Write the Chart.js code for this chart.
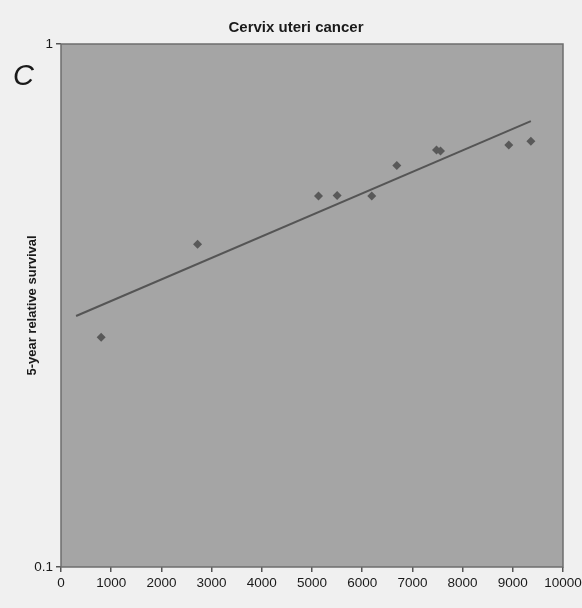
<!DOCTYPE html>
<html>
<head>
<meta charset="utf-8">
<script src="https://cdn.jsdelivr.net/npm/chart.js@4.4.1/dist/chart.umd.min.js"></script>
<style>
  html, body { margin: 0; padding: 0; background: #f0f0f0; }
  #wrap { width: 582px; height: 608px; }
</style>
</head>
<body>
<div id="wrap"><canvas id="myChart" width="582" height="608"></canvas></div>
<script>
// data
let incomeX = [800, 2720, 5130, 5500, 6190, 6690, 7480, 7560, 8920, 9360];
let survivalY = [0.275, 0.414, 0.512, 0.513, 0.512, 0.586, 0.627, 0.624, 0.641, 0.652];
let trendX = [300, 9360];
let trendY = [0.302, 0.712];
let xTicks = [0, 1000, 2000, 3000, 4000, 5000, 6000, 7000, 8000, 9000, 10000];
let yTicks = [0.1, 1];

let elCanvas = document.getElementById('myChart').getContext('2d');

function toPoints(xs, ys) {
    let pts = [];
    for (let i = 0; i < xs.length; i++) {
        pts.push({ x: xs[i], y: ys[i] });
    }
    return pts;
}

// plot area fill + border, title and panel letter
const decor = {
    id: 'decor',
    beforeDatasetsDraw(chart) {
        const a = chart.chartArea, c = chart.ctx;
        c.save();
        c.fillStyle = '#a5a5a5';
        c.fillRect(a.left, a.top, a.right - a.left, a.bottom - a.top);
        c.strokeStyle = '#6e6e6e';
        c.lineWidth = 1.5;
        c.strokeRect(a.left, a.top, a.right - a.left, a.bottom - a.top);
        c.restore();
    },
    afterDraw(chart) {
        const c = chart.ctx;
        c.save();
        c.fillStyle = '#1a1a1a';
        c.textAlign = 'center';
        c.textBaseline = 'middle';
        c.font = 'bold 15px "Liberation Sans", Arial, sans-serif';
        c.fillText('Cervix uteri cancer', 296, 28);
        c.textAlign = 'left';
        c.font = 'italic 29px "Liberation Sans", Arial, sans-serif';
        c.fillText('C', 13, 77);
        c.restore();
    }
};

const tickFont = { family: '"Liberation Sans", Arial, sans-serif', size: 13.5 };

new Chart(elCanvas, {
    type: 'scatter',
    data: {
        datasets: [
            {
                label: 'Trend',
                type: 'line',
                data: toPoints(trendX, trendY),
                borderColor: '#555',
                borderWidth: 2,
                pointRadius: 0,
                fill: false
            },
            {
                label: 'Countries',
                data: toPoints(incomeX, survivalY),
                pointStyle: 'rectRot',
                pointRadius: 4.5,
                backgroundColor: '#595959',
                borderColor: '#595959',
                borderWidth: 0
            }
        ]
    },
    options: {
        responsive: false,
        animation: false,
        layout: { padding: { top: 44, right: 19, left: 0, bottom: 0 } },
        plugins: { legend: { display: false }, tooltip: { enabled: false } },
        scales: {
            x: {
                type: 'linear',
                min: 0,
                max: 10000,
                afterBuildTicks: s => { s.ticks = xTicks.map(v => ({ value: v })); },
                afterFit: s => { s.height = 41; s.paddingLeft = 0; s.paddingRight = 0; },
                grid: { display: true, drawOnChartArea: false, tickLength: 5, color: '#555', lineWidth: 1.5 },
                border: { display: false },
                ticks: {
                    color: '#1a1a1a',
                    maxRotation: 0,
                    padding: 3,
                    callback: v => String(v),
                    font: tickFont
                }
            },
            y: {
                type: 'logarithmic',
                min: 0.1,
                max: 1,
                afterBuildTicks: s => { s.ticks = yTicks.map(v => ({ value: v })); },
                afterFit: s => { s.width = 61; s.paddingTop = 0; s.paddingBottom = 0; },
                grid: { display: true, drawOnChartArea: false, tickLength: 5, color: '#555', lineWidth: 1.5 },
                border: { display: false },
                ticks: {
                    color: '#1a1a1a',
                    padding: 3,
                    callback: v => String(v),
                    font: tickFont
                },
                title: {
                    display: true,
                    text: '5-year relative survival',
                    color: '#1a1a1a',
                    padding: { top: 25, bottom: 0 },
                    font: { family: '"Liberation Sans", Arial, sans-serif', size: 13, weight: 'bold' }
                }
            }
        }
    },
    plugins: [decor]
});
</script>
</body>
</html>
